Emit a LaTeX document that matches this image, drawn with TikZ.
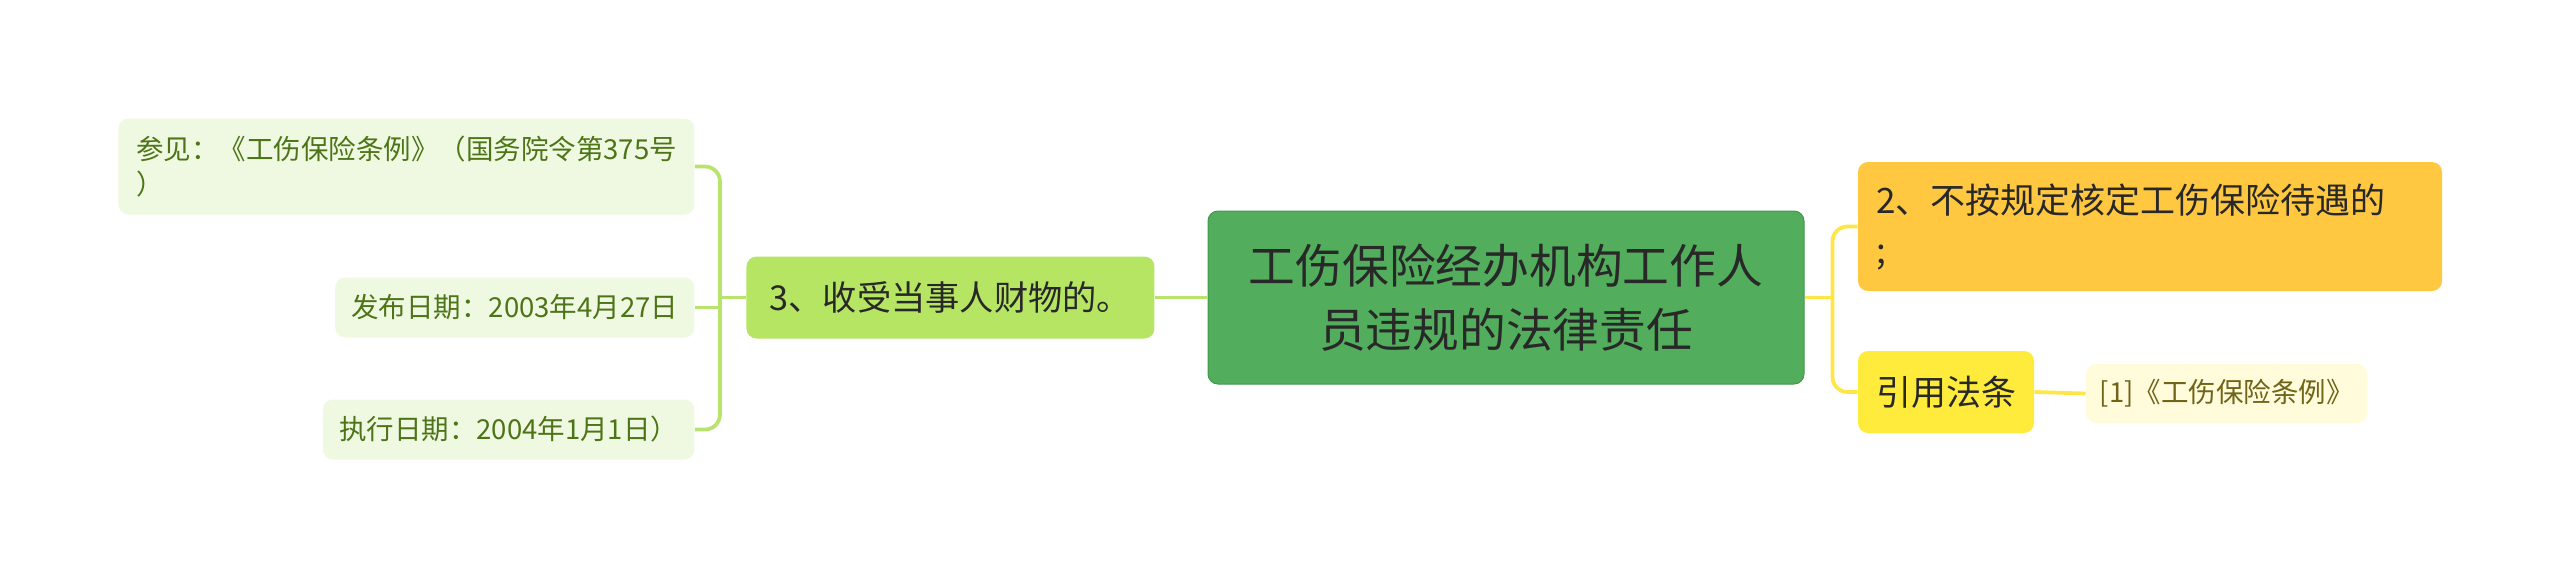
\documentclass[tikz,border=0pt]{standalone}
\usepackage{fontspec}
\newfontfamily\cjk{Noto Sans CJK SC}
\usetikzlibrary{positioning}
\definecolor{rootgreen}{RGB}{82,174,92}
\definecolor{rootedge}{RGB}{66,152,76}
\definecolor{topicgreen}{RGB}{182,229,100}
\definecolor{leafgreen}{RGB}{239,249,225}
\definecolor{leaftext}{RGB}{78,116,24}
\definecolor{branchorange}{RGB}{255,200,64}
\definecolor{branchyellow}{RGB}{255,235,59}
\definecolor{refyellow}{RGB}{255,251,219}
\definecolor{reftext}{RGB}{112,100,24}
\definecolor{linegreen}{RGB}{184,228,110}
\definecolor{lineyellow}{RGB}{255,230,70}
\definecolor{darktext}{RGB}{40,40,40}
\tikzset{
  box/.style={rounded corners=4pt, inner xsep=6pt, inner ysep=3pt},
  root/.style={box, draw=rootedge, fill=rootgreen, text=darktext, align=center,
    minimum width=238.4pt, minimum height=69.2pt, font=\cjk\fontsize{18.7}{25.5}\selectfont},
  topic/.style={box, fill=topicgreen, text=darktext, align=left,
    minimum width=163.2pt, minimum height=32.8pt, font=\cjk\fontsize{13.7}{17}\selectfont},
  leaf/.style={box, fill=leafgreen, text=leaftext, align=left, inner xsep=6.5pt,
    minimum height=24pt, font=\cjk\fontsize{11}{13.7}\selectfont},
  branch/.style={box, fill=branchorange, text=darktext, align=left, inner xsep=7.2pt,
    text width=219.2pt, minimum height=51.6pt, font=\cjk\fontsize{14}{20}\selectfont},
  law/.style={box, fill=branchyellow, text=darktext, inner xsep=7.2pt,
    minimum height=32.8pt, font=\cjk\fontsize{14}{17}\selectfont},
  ref/.style={box, fill=refyellow, text=reftext, inner xsep=5.5pt,
    minimum height=23.6pt, font=\cjk\fontsize{11}{13.7}\selectfont},
  gline/.style={draw=linegreen, line width=1.5pt, rounded corners=6pt},
  yline/.style={draw=lineyellow, line width=1.5pt, rounded corners=6pt},
  node distance=21pt
}

\begin{document}
\begin{tikzpicture}
    \useasboundingbox (-602.4pt,-112.2pt) rectangle (421.6pt,119pt);

    \node[root] (root) at (0,0) {工伤保险经办机构工作人\\员违规的法律责任};
    \node[topic, left = 21pt of root] (n3) {3、收受当事人财物的。};
    \node[leaf, left = 20.4pt of n3, yshift=52.4pt, minimum height=38.4pt, minimum width=230.4pt] (la)
        {参见：《工伤保险条例》（国务院令第375号\\）};
    \node[leaf, left = 20.4pt of n3, yshift=-4pt] (lb) {发布日期：2003年4月27日};
    \node[leaf, left = 20.4pt of n3, yshift=-52.8pt] (lc) {执行日期：2004年1月1日）};
    \node[branch, right = 21.2pt of root, yshift=28.4pt] (n2) {2、不按规定核定工伤保险待遇的\\;};
    \node[law, right = 21.2pt of root, yshift=-37.8pt] (law) {引用法条};
    \node[ref, right = 20.4pt of law, yshift=-0.6pt] (ref) {[1]《工伤保险条例》};

    \draw[gline] (root.west) -- (n3.east);
    \draw[gline] (n3.west) -- ++(-10.4pt,0) coordinate (jl);
    \draw[gline] (la.east) -| (jl) |- (lc.east);
    \draw[gline] (lb.east) -- (lb.east -| jl);

    \draw[yline] (root.east) -- ++(11.2pt,0) coordinate (jr);
    \draw[yline] (n2.west) -| (jr) |- (law.west);
    \draw[yline] (law.east) -- (ref.west);
\end{tikzpicture}
\end{document}
